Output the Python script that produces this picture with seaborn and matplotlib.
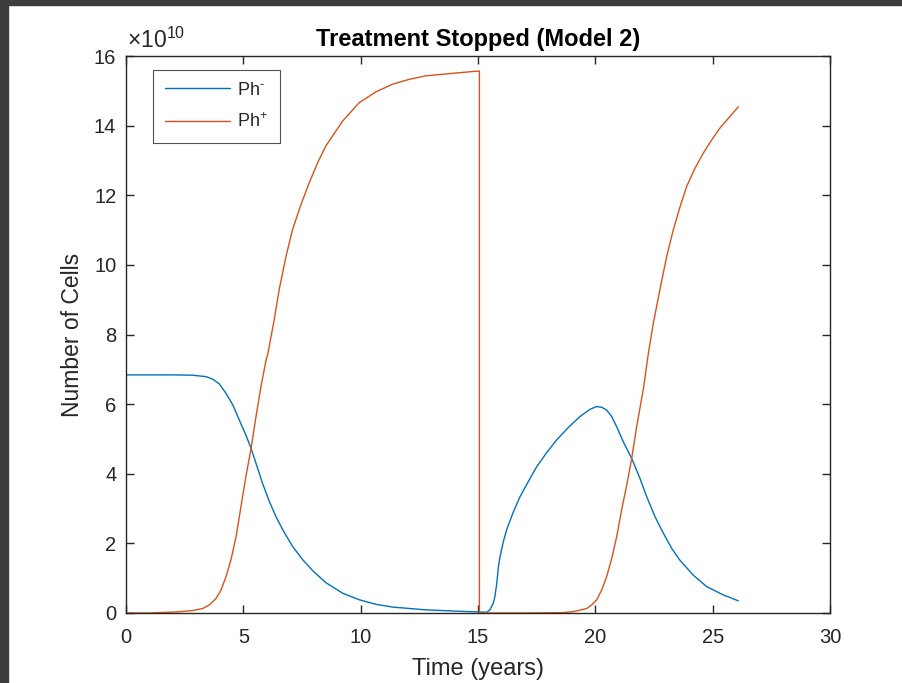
import numpy as np
import pandas as pd
import matplotlib
matplotlib.use("Agg")
import matplotlib.pyplot as plt
import seaborn as sns
from matplotlib.patches import Rectangle

# ---- data (values in units of 1e10 cells) ----
ph_minus_t = [0, 1, 2, 2.84, 3.41, 3.69, 3.98, 4.26, 4.55, 4.83, 5.11, 5.33, 5.54, 5.82,
              6.11, 6.39, 6.68, 7.10, 7.53, 7.95, 8.52, 9.23, 9.94, 10.65, 11.36, 12.78,
              14.2, 15.06, 15.37, 15.51, 15.65, 15.72, 15.80, 15.87, 15.94, 16.08, 16.22,
              16.51, 16.79, 17.14, 17.50, 17.93, 18.35, 18.85, 19.34, 19.77, 20.05, 20.27,
              20.48, 20.70, 20.91, 21.19, 21.55, 21.90, 22.19, 22.54, 22.90, 23.25, 23.60,
              24.17, 24.74, 25.45, 26.09]
ph_minus_v = [6.84, 6.84, 6.84, 6.83, 6.79, 6.72, 6.58, 6.31, 5.98, 5.54, 5.11, 4.73, 4.30, 3.72,
              3.20, 2.77, 2.39, 1.91, 1.53, 1.22, 0.87, 0.57, 0.38, 0.25, 0.17, 0.09,
              0.05, 0.03, 0.02, 0.09, 0.28, 0.47, 0.85, 1.33, 1.62, 2.05, 2.39,
              2.91, 3.34, 3.77, 4.20, 4.61, 4.97, 5.33, 5.64, 5.85, 5.93, 5.91,
              5.83, 5.64, 5.35, 4.92, 4.44, 3.87, 3.34, 2.77, 2.29, 1.86, 1.52,
              1.09, 0.76, 0.52, 0.35]

ph_plus_t = [0, 1.0, 2.13, 2.84, 3.27, 3.55, 3.84, 4.05, 4.26, 4.47, 4.69, 4.90, 5.11, 5.33,
             5.54, 5.75, 5.97, 6.04, 6.32, 6.53, 6.82, 7.10, 7.46, 7.81, 8.17, 8.52, 9.23,
             9.94, 10.65, 11.36, 12.07, 12.78, 14.2, 15.06, 15.06, 17.0, 18.64, 19.06,
             19.34, 19.63, 19.84, 20.05, 20.27, 20.48, 20.70, 20.91, 21.12, 21.34, 21.55,
             21.76, 22.05, 22.26, 22.47, 22.75, 23.04, 23.32, 23.61, 23.89, 24.25, 24.60,
             24.96, 25.31, 25.67, 26.09]
ph_plus_v = [0, 0, 0.03, 0.07, 0.13, 0.23, 0.42, 0.66, 1.04, 1.52, 2.19, 3.06, 3.92, 4.73,
             5.64, 6.50, 7.27, 7.43, 8.44, 9.30, 10.25, 11.02, 11.74, 12.36, 12.94, 13.42, 14.13,
             14.66, 14.97, 15.19, 15.33, 15.43, 15.52, 15.57, 0.0, 0.0, 0.01, 0.04,
             0.08, 0.13, 0.23, 0.37, 0.66, 1.04, 1.57, 2.19, 2.96, 3.68, 4.44,
             5.35, 6.45, 7.46, 8.32, 9.28, 10.24, 11.00, 11.67, 12.25, 12.78, 13.21,
             13.59, 13.93, 14.21, 14.54]

series_labels = [r"Ph$^{\text{-}}$", r"Ph$^{+}$"]
x_ticks = [0, 5, 10, 15, 20, 25, 30]
y_ticks = [0, 2, 4, 6, 8, 10, 12, 14, 16]

BLUE = "#0072BD"
ORANGE = "#D95319"
TXT = "#262626"

sns.set_theme(style="white")
plt.rcParams["font.family"] = ["Liberation Sans", "DejaVu Sans"]
plt.rcParams["mathtext.fontset"] = "custom"
plt.rcParams["mathtext.rm"] = "Liberation Sans"
plt.rcParams["mathtext.it"] = "Liberation Sans"
plt.rcParams["mathtext.bf"] = "Liberation Sans:bold"

fig = plt.figure(figsize=(9.02, 6.83), dpi=100)
fig.patch.set_facecolor("white")
ax = fig.add_axes([126 / 902, 1 - 613 / 683, (830 - 126) / 902, (613 - 56) / 683])

df1 = pd.DataFrame({"t": ph_minus_t, "v": ph_minus_v})
df2 = pd.DataFrame({"t": ph_plus_t, "v": ph_plus_v})
sns.lineplot(data=df1, x="t", y="v", ax=ax, color=BLUE, lw=1.0, estimator=None,
             sort=False, label=series_labels[0])
sns.lineplot(data=df2, x="t", y="v", ax=ax, color=ORANGE, lw=1.0, estimator=None,
             sort=False, label=series_labels[1])

ax.set_xlim(0, 30)
ax.set_ylim(0, 16)
ax.set_xticks(x_ticks)
ax.set_yticks(y_ticks)
ax.set_xticklabels([str(v) for v in x_ticks])
ax.set_yticklabels([str(v) for v in y_ticks])
ax.tick_params(direction="in", length=5.5, width=1.0, colors=TXT, labelsize=14.5,
               top=True, right=True, bottom=True, left=True)
ax.tick_params(axis="x", pad=11)
ax.tick_params(axis="y", pad=7)
for s in ax.spines.values():
    s.set_color(TXT)
    s.set_linewidth(1.0)
    s.set_visible(True)

ax.set_xlabel("Time (years)", fontsize=17, color=TXT, labelpad=8)
ax.set_ylabel("Number of Cells", fontsize=16.5, color=TXT, labelpad=7)
ax.set_title("Treatment Stopped (Model 2)", fontsize=17, fontweight="bold", color="black", pad=7)
ax.text(0.002, 1.006, r"$\times10^{10}$", transform=ax.transAxes, fontsize=16.5, color=TXT,
        ha="left", va="bottom")

leg = ax.legend(loc="upper left", bbox_to_anchor=(27 / 704, 1 - 14 / 557), fontsize=13,
                handlelength=3.6, frameon=True, fancybox=False, borderpad=0.65,
                labelspacing=0.75, handletextpad=0.4, borderaxespad=0)
leg.get_frame().set_edgecolor("#262626")
leg.get_frame().set_linewidth(0.8)

# screenshot window frame
fig.patches.append(Rectangle((0, 1 - 5 / 683), 1, 5 / 683, transform=fig.transFigure,
                             color="#3c3c3c", zorder=10))
fig.patches.append(Rectangle((0, 0), 8 / 902, 1, transform=fig.transFigure,
                             color="#3c3c3c", zorder=10))

fig.savefig("out.png", dpi=100, facecolor="white")
